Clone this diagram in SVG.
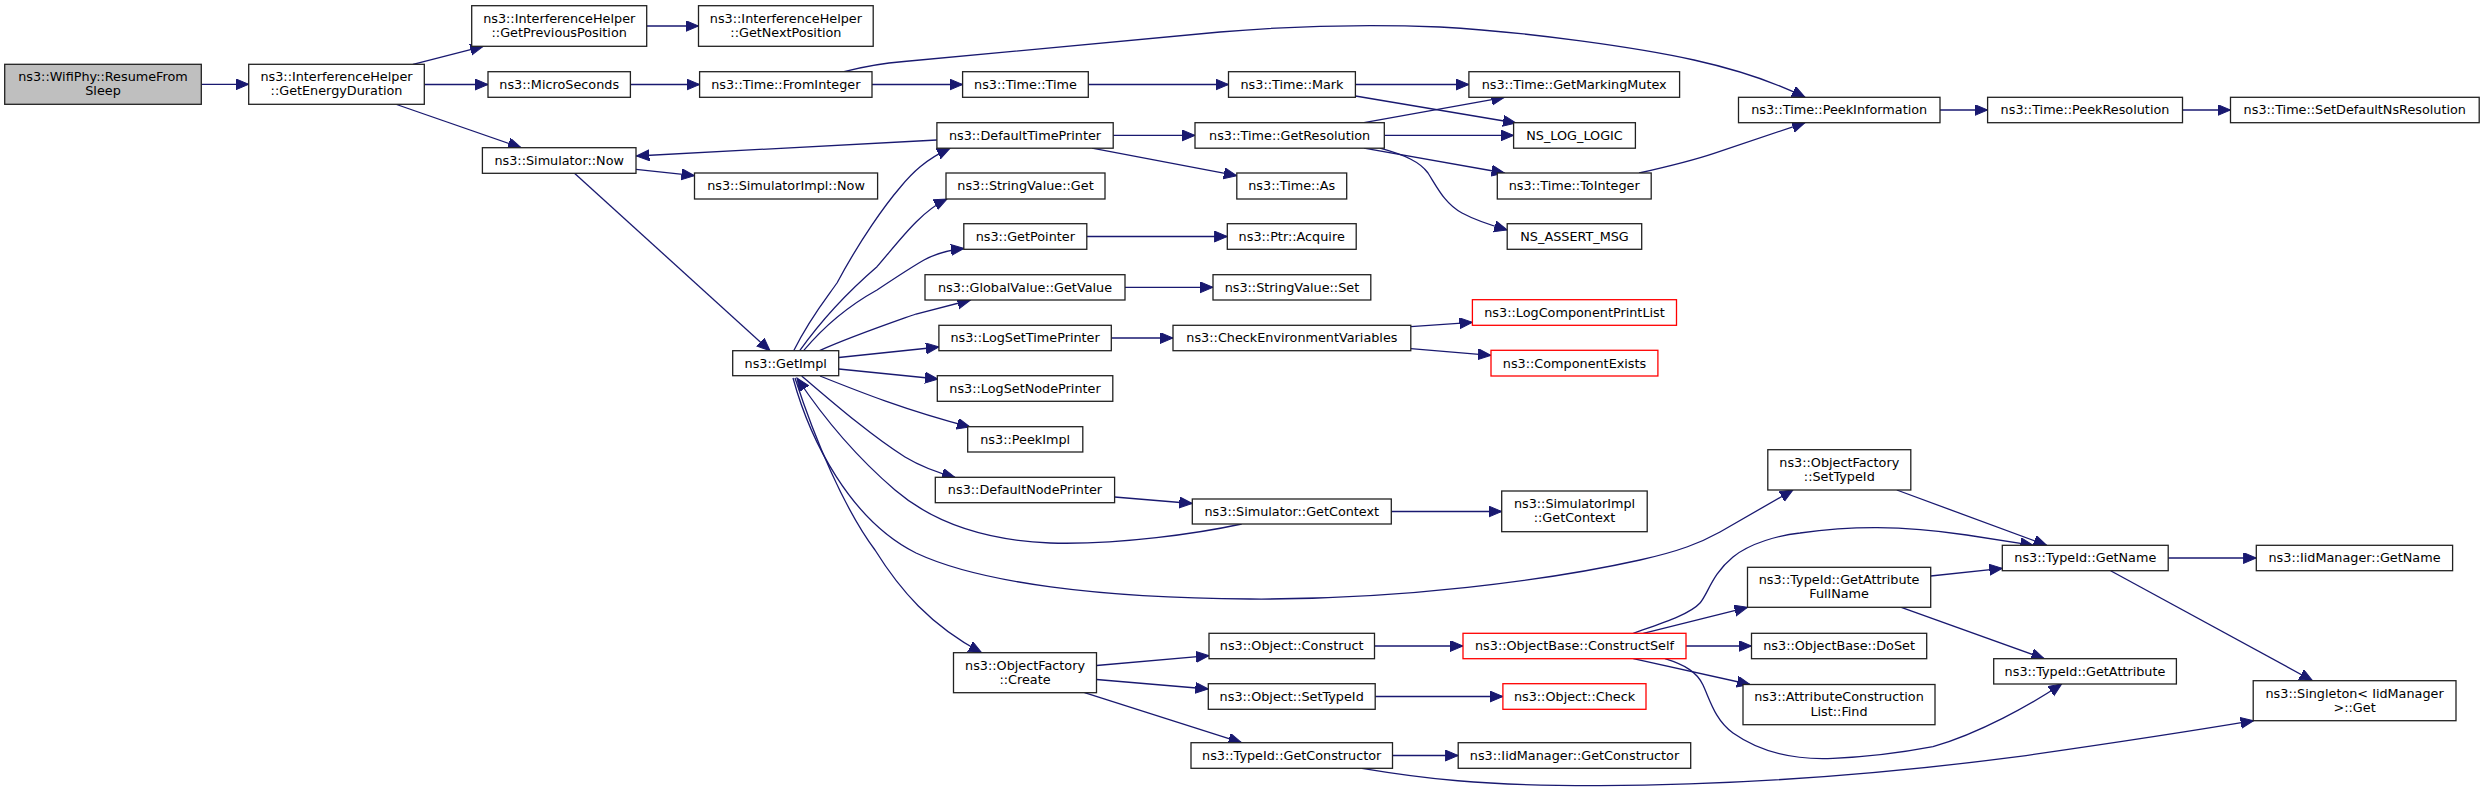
<svg xmlns="http://www.w3.org/2000/svg" width="2484" height="792" viewBox="0 0 2484 792">
<style>
.node rect{fill:#ffffff;stroke:#222222;stroke-width:1.3}
.root rect{fill:#bfbfbf}
.red rect{stroke:#ff0000}
.node text{font-family:"DejaVu Sans","Liberation Sans",sans-serif;font-size:12.8px;fill:#000000;text-anchor:middle}
.edges path{fill:none;stroke:#191970;stroke-width:1.3;marker-end:url(#ah)}
</style>
<defs>
<marker id="ah" markerWidth="15" markerHeight="12" refX="13" refY="5.5" orient="auto" markerUnits="userSpaceOnUse">
<path d="M0,0 L13,5.5 L0,11 z" fill="#191970" stroke="#191970" stroke-width="1"/>
</marker>
</defs>
<rect x="0" y="0" width="2484" height="792" fill="#ffffff"/>
<g class="edges" id="edges">
<path d="M201.3,84.3 L248.7,84.3"/>
<path d="M413,64.3 L483.2,46.3"/>
<path d="M424.3,84.5 L488,84.5"/>
<path d="M396.6,104.5 L521,147.7"/>
<path d="M646.7,26 L698.5,26"/>
<path d="M630.4,84.5 L699.6,84.5"/>
<path d="M872,84.5 L962.6,84.5"/>
<path d="M844,71.7 C862,67 885,63 904,61.5 L1220,32 C1290,26 1360,24 1440,27 C1530,32 1640,48 1694,60 C1730,68 1770,80 1805,97.3"/>
<path d="M1088.3,84.5 L1228.5,84.5"/>
<path d="M1355.4,84.5 L1468.9,84.5"/>
<path d="M1355.4,96 L1516,123"/>
<path d="M1364,122.7 L1504.5,97.3"/>
<path d="M1384.3,135.4 L1513.6,135.4"/>
<path d="M1364,148.2 L1504.5,173"/>
<path d="M1380,148.2 C1405,155 1420,162 1428,173 C1437,187 1445,204 1462,213 C1475,220 1490,225 1507.2,230"/>
<path d="M1639,173 C1670,166 1700,158 1714,153.3 C1745,143 1775,133 1805,122.7"/>
<path d="M1940,110 L1987.6,110"/>
<path d="M2182.5,110 L2230.5,110"/>
<path d="M1113.2,135.4 L1195,135.4"/>
<path d="M936.9,140 L636.4,156"/>
<path d="M1092,148.2 L1236.8,175.7"/>
<path d="M636,169.3 L694.5,175.7"/>
<path d="M574.5,173.3 L770,350.7"/>
<path d="M793.7,350.7 C810,318 825,300 837,283 C860,240 885,205 900.5,187 C912,173 925,160 950,148.2"/>
<path d="M799.7,350.7 C825,315 850,290 877,266.7 C900,240 920,212 947,199"/>
<path d="M803.6,350.7 C825,325 850,305 877,290 C895,278 910,268 924,260 C935,254 950,250 964,248.5"/>
<path d="M819.5,350.7 C850,337 885,325 916,314 L970.5,300"/>
<path d="M838.7,357.5 L938.9,347"/>
<path d="M838.7,369 L938,379"/>
<path d="M820,376 C860,392 905,410 970,427"/>
<path d="M801.7,376 C830,400 870,435 905,457 C920,466 935,472 955,477.3"/>
<path d="M1241.7,524 C1200,533 1120,545 1050,543 C980,540 930,520 895,490 C860,460 825,420 797,378"/>
<path d="M793,378 C810,440 850,520 916,553 C980,583 1100,598 1250,599 C1400,600 1550,580 1640,560 C1680,551 1700,543 1720,532 L1793,490"/>
<path d="M795,378 C815,440 845,510 875,550 C900,590 930,625 981.6,652.7"/>
<path d="M1086.8,236.5 L1227.3,236.5"/>
<path d="M1125,287.3 L1213,287.3"/>
<path d="M1111.3,338 L1173,338"/>
<path d="M1410.8,326.7 L1472.4,322.3"/>
<path d="M1410.8,348.7 L1491,355.3"/>
<path d="M1114.5,497 L1192.3,503.5"/>
<path d="M1391,511.5 L1501.7,511.5"/>
<path d="M1096.5,665.5 L1209,655.7"/>
<path d="M1096.5,679.5 L1208.3,689"/>
<path d="M1084.5,692.7 L1241.5,742.7"/>
<path d="M1374.5,646 L1463,646"/>
<path d="M1375.2,696.5 L1502.9,696.5"/>
<path d="M1392.3,755.5 L1458.2,755.5"/>
<path d="M1362,768.3 C1420,778 1480,786 1600,785.7 C1750,785 1900,772 2018,756.7 C2100,745 2180,733 2253.6,720.7"/>
<path d="M1633.3,633.3 C1665,622 1690,614 1700,603 C1708,594 1712,574 1733,557 C1750,543 1780,535 1800,533 C1850,526 1900,525 1966.7,535 L2033.3,545.3"/>
<path d="M1643.3,633.3 L1747.5,607.3"/>
<path d="M1686,646 L1751.5,646"/>
<path d="M1633.3,658.7 L1750,684.5"/>
<path d="M1665,658.7 C1685,665 1697,672 1703,685 C1710,700 1715,720 1733,733 C1760,752 1795,760 1833,758.3 C1870,757 1905,752 1933,746.7 C1980,733 2030,705 2061.7,684"/>
<path d="M1896.8,490 L2046.7,545.3"/>
<path d="M1930.7,576 L2002.3,568.3"/>
<path d="M1901.3,607.3 L2044.3,658.7"/>
<path d="M2168.2,558 L2256.3,558"/>
<path d="M2110.6,570.7 L2312.5,680.7"/>
</g>
<g class="node root" id="n_wifi"><rect x="4.7" y="64.3" width="196.6" height="40"/><text x="103" y="81.1">ns3::WifiPhy::ResumeFrom</text><text x="103" y="95.4">Sleep</text></g>
<g class="node" id="n_ged"><rect x="248.7" y="64.3" width="175.6" height="40"/><text x="336.5" y="81.1">ns3::InterferenceHelper</text><text x="336.5" y="95.4">::GetEnergyDuration</text></g>
<g class="node" id="n_gpp"><rect x="471.7" y="5.7" width="175" height="40.6"/><text x="559.2" y="22.8">ns3::InterferenceHelper</text><text x="559.2" y="37.1">::GetPreviousPosition</text></g>
<g class="node" id="n_gnp"><rect x="698.5" y="5.7" width="174.7" height="40.6"/><text x="785.9" y="22.8">ns3::InterferenceHelper</text><text x="785.9" y="37.1">::GetNextPosition</text></g>
<g class="node" id="n_micro"><rect x="488" y="71.7" width="142.4" height="25.6"/><text x="559.2" y="88.9">ns3::MicroSeconds</text></g>
<g class="node" id="n_fromint"><rect x="699.6" y="71.7" width="172.4" height="25.6"/><text x="785.8" y="88.9">ns3::Time::FromInteger</text></g>
<g class="node" id="n_timetime"><rect x="962.6" y="71.7" width="125.7" height="25.6"/><text x="1025.5" y="88.9">ns3::Time::Time</text></g>
<g class="node" id="n_mark"><rect x="1228.5" y="71.7" width="126.9" height="25.6"/><text x="1292" y="88.9">ns3::Time::Mark</text></g>
<g class="node" id="n_gmm"><rect x="1468.9" y="71.7" width="210.7" height="25.6"/><text x="1574.2" y="88.9">ns3::Time::GetMarkingMutex</text></g>
<g class="node" id="n_peekinfo"><rect x="1738.5" y="97.3" width="201.5" height="25.4"/><text x="1839.2" y="114.4">ns3::Time::PeekInformation</text></g>
<g class="node" id="n_peekres"><rect x="1987.6" y="97.3" width="194.9" height="25.4"/><text x="2085" y="114.4">ns3::Time::PeekResolution</text></g>
<g class="node" id="n_setdef"><rect x="2230.5" y="97.3" width="248.7" height="25.4"/><text x="2354.8" y="114.4">ns3::Time::SetDefaultNsResolution</text></g>
<g class="node" id="n_dtp"><rect x="936.9" y="122.7" width="176.3" height="25.5"/><text x="1025" y="139.8">ns3::DefaultTimePrinter</text></g>
<g class="node" id="n_getres"><rect x="1195" y="122.7" width="189.3" height="25.5"/><text x="1289.6" y="139.8">ns3::Time::GetResolution</text></g>
<g class="node" id="n_nslog"><rect x="1513.6" y="122.7" width="121.8" height="25.5"/><text x="1574.5" y="139.8">NS_LOG_LOGIC</text></g>
<g class="node" id="n_simnow"><rect x="482.4" y="147.7" width="153.6" height="25.6"/><text x="559.2" y="164.9">ns3::Simulator::Now</text></g>
<g class="node" id="n_simimplnow"><rect x="694.5" y="173" width="183.1" height="26"/><text x="786" y="190.4">ns3::SimulatorImpl::Now</text></g>
<g class="node" id="n_svget"><rect x="946" y="173" width="159" height="26"/><text x="1025.5" y="190.4">ns3::StringValue::Get</text></g>
<g class="node" id="n_as"><rect x="1236.8" y="173" width="109.9" height="26"/><text x="1291.7" y="190.4">ns3::Time::As</text></g>
<g class="node" id="n_toint"><rect x="1497.3" y="173" width="153.9" height="26"/><text x="1574.2" y="190.4">ns3::Time::ToInteger</text></g>
<g class="node" id="n_getptr"><rect x="963.8" y="223.7" width="123" height="25.6"/><text x="1025.3" y="240.9">ns3::GetPointer</text></g>
<g class="node" id="n_acquire"><rect x="1227.3" y="223.7" width="128.9" height="25.6"/><text x="1291.7" y="240.9">ns3::Ptr::Acquire</text></g>
<g class="node" id="n_assert"><rect x="1507.2" y="223.7" width="134.5" height="25.6"/><text x="1574.5" y="240.9">NS_ASSERT_MSG</text></g>
<g class="node" id="n_gvget"><rect x="925" y="274.7" width="200" height="25.3"/><text x="1025" y="291.7">ns3::GlobalValue::GetValue</text></g>
<g class="node" id="n_svset"><rect x="1213" y="274.7" width="157.8" height="25.3"/><text x="1291.9" y="291.7">ns3::StringValue::Set</text></g>
<g class="node red" id="n_lcpl"><rect x="1472.4" y="299.7" width="204.1" height="25.6"/><text x="1574.5" y="316.9">ns3::LogComponentPrintList</text></g>
<g class="node" id="n_lstp"><rect x="938.9" y="325.3" width="172.4" height="25.4"/><text x="1025.1" y="342.4">ns3::LogSetTimePrinter</text></g>
<g class="node" id="n_cev"><rect x="1173" y="325.3" width="237.8" height="25.4"/><text x="1291.9" y="342.4">ns3::CheckEnvironmentVariables</text></g>
<g class="node" id="n_getimpl"><rect x="732.7" y="350.7" width="106" height="25"/><text x="785.7" y="367.6">ns3::GetImpl</text></g>
<g class="node red" id="n_compex"><rect x="1491" y="350.3" width="166.9" height="25.7"/><text x="1574.5" y="367.6">ns3::ComponentExists</text></g>
<g class="node" id="n_lsnp"><rect x="937.3" y="375.7" width="175.5" height="25.6"/><text x="1025" y="392.9">ns3::LogSetNodePrinter</text></g>
<g class="node" id="n_peekimpl"><rect x="967.7" y="426.7" width="115.1" height="25.3"/><text x="1025.2" y="443.7">ns3::PeekImpl</text></g>
<g class="node" id="n_dnp"><rect x="935.3" y="477.3" width="179.3" height="25.4"/><text x="1025" y="494.4">ns3::DefaultNodePrinter</text></g>
<g class="node" id="n_simgetctx"><rect x="1192.3" y="499" width="199" height="25"/><text x="1291.8" y="515.9">ns3::Simulator::GetContext</text></g>
<g class="node" id="n_simimplgetctx"><rect x="1501.7" y="491" width="145.5" height="40.7"/><text x="1574.5" y="508.1">ns3::SimulatorImpl</text><text x="1574.5" y="522.4">::GetContext</text></g>
<g class="node" id="n_ofsettypeid"><rect x="1767.8" y="449.7" width="143" height="40.3"/><text x="1839.3" y="466.6">ns3::ObjectFactory</text><text x="1839.3" y="480.9">::SetTypeId</text></g>
<g class="node" id="n_getname"><rect x="2002.3" y="545.3" width="165.9" height="25.4"/><text x="2085.3" y="562.4">ns3::TypeId::GetName</text></g>
<g class="node" id="n_iidgetname"><rect x="2256.3" y="545.3" width="196.3" height="25.4"/><text x="2354.5" y="562.4">ns3::IidManager::GetName</text></g>
<g class="node" id="n_gafn"><rect x="1747.5" y="567.3" width="183.2" height="40"/><text x="1839.1" y="584.1">ns3::TypeId::GetAttribute</text><text x="1839.1" y="598.4">FullName</text></g>
<g class="node" id="n_create"><rect x="953.5" y="652.7" width="143" height="40"/><text x="1025" y="669.5">ns3::ObjectFactory</text><text x="1025" y="683.8">::Create</text></g>
<g class="node" id="n_objconstruct"><rect x="1209" y="633.3" width="165.5" height="25.4"/><text x="1291.7" y="650.4">ns3::Object::Construct</text></g>
<g class="node red" id="n_constructself"><rect x="1463" y="633.3" width="223" height="25.4"/><text x="1574.5" y="650.4">ns3::ObjectBase::ConstructSelf</text></g>
<g class="node" id="n_doset"><rect x="1751.5" y="633.3" width="175.2" height="25.4"/><text x="1839.1" y="650.4">ns3::ObjectBase::DoSet</text></g>
<g class="node" id="n_getattr"><rect x="1993.7" y="658.7" width="182.7" height="25.3"/><text x="2085" y="675.7">ns3::TypeId::GetAttribute</text></g>
<g class="node" id="n_singleton"><rect x="2253.2" y="680.7" width="202.8" height="40"/><text x="2354.6" y="697.5">ns3::Singleton&lt; IidManager</text><text x="2354.6" y="711.8">&gt;::Get</text></g>
<g class="node" id="n_objsettypeid"><rect x="1208.3" y="683.7" width="166.9" height="25.6"/><text x="1291.7" y="700.9">ns3::Object::SetTypeId</text></g>
<g class="node red" id="n_check"><rect x="1502.9" y="683.7" width="143.1" height="25.6"/><text x="1574.5" y="700.9">ns3::Object::Check</text></g>
<g class="node" id="n_find"><rect x="1743" y="684.5" width="192" height="40.2"/><text x="1839" y="701.4">ns3::AttributeConstruction</text><text x="1839" y="715.7">List::Find</text></g>
<g class="node" id="n_getctor"><rect x="1191" y="742.7" width="201.5" height="25.6"/><text x="1291.7" y="759.9">ns3::TypeId::GetConstructor</text></g>
<g class="node" id="n_iidgetctor"><rect x="1458.2" y="742.7" width="232.5" height="25.6"/><text x="1574.5" y="759.9">ns3::IidManager::GetConstructor</text></g>
</svg>
